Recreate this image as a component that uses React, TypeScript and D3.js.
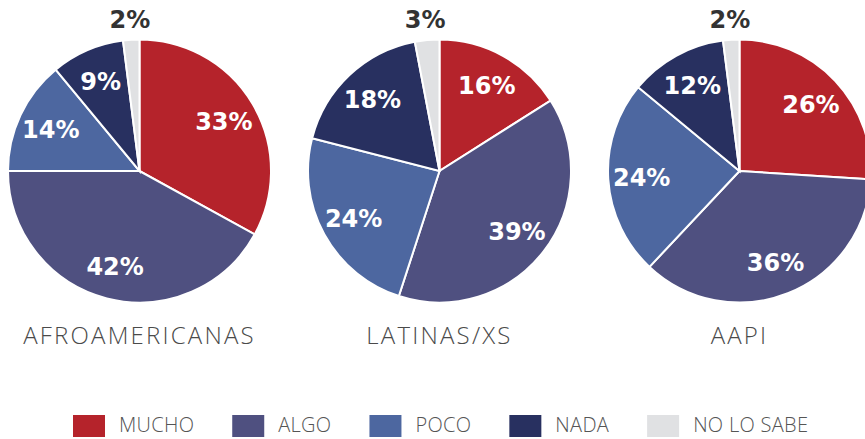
import React, { useRef, useEffect } from 'react';
import * as d3 from 'd3';

const categories = ['MUCHO', 'ALGO', 'POCO', 'NADA', 'NO LO SABE'];
const groups = ['AFROAMERICANAS', 'LATINAS/XS', 'AAPI'];
const afroamericanas = [33, 42, 14, 9, 2];
const latinas = [16, 39, 24, 18, 3];
const aapi = [26, 36, 24, 12, 2];
const colors = ['#b5232b', '#4f5080', '#4d67a0', '#283060', '#e0e1e3'];

const W = 865;
const H = 439;
const R = 131.5;

const App: React.FC = () => {
	const legendRef = useRef<SVGGElement | null>(null);

	const series = [afroamericanas, latinas, aapi];

	const x = d3.scalePoint<string>().domain(groups).range([139.5, 739.5]);
	const cy = 171;

	const pie = d3
		.pie<number>()
		.sort(null)
		.value((d) => d);
	const arc = d3.arc<d3.PieArcDatum<number>>().innerRadius(0).outerRadius(R);
	const labelArc = d3
		.arc<d3.PieArcDatum<number>>()
		.innerRadius(98)
		.outerRadius(98);
	const outerArc = d3
		.arc<d3.PieArcDatum<number>>()
		.innerRadius(152)
		.outerRadius(152);

	useEffect(() => {
		// legend flows by text width
		const g = d3.select(legendRef.current);
		g.selectAll('*').remove();
		let cx = 73;
		categories.forEach((c, i) => {
			g.append('rect')
				.attr('x', cx)
				.attr('y', 415)
				.attr('width', 32)
				.attr('height', 22)
				.attr('fill', colors[i]);
			const t = g
				.append('text')
				.attr('x', cx + 46)
				.attr('y', 432)
				.attr('fill', '#555')
				.attr('font-family', 'Open Sans, sans-serif')
				.attr('font-weight', 300)
				.attr('font-size', 20)
				.attr('letter-spacing', 0.3)
				.text(c);
			const w = (t.node() as SVGTextElement).getComputedTextLength();
			cx += 46 + w + 38;
		});
	}, []);

	return (
		<svg
			width={W}
			height={H}
			style={{ position: 'absolute', left: 0, top: 0, background: '#fff' }}
		>
			{series.map((vals, gi) => {
				const arcs = pie(vals);
				const cx = x(groups[gi]) as number;
				return (
					<g key={groups[gi]} transform={`translate(${cx},${cy})`}>
						{arcs.map((a, i) => (
							<path
								key={i}
								d={arc(a) || ''}
								fill={colors[i]}
								stroke='#fff'
								strokeWidth={2}
							/>
						))}
						{arcs.map((a, i) => {
							const small = a.data < 5;
							const [lx, ly] = small
								? outerArc.centroid(a)
								: labelArc.centroid(a);
							return (
								<text
									key={'l' + i}
									x={lx}
									y={ly}
									dy='0.36em'
									textAnchor='middle'
									fontFamily='DejaVu Sans, sans-serif'
									fontWeight='bold'
									fontSize={24}
									fill={small ? '#333' : '#fff'}
								>
									{a.data + '%'}
								</text>
							);
						})}
						<text
							y={344 - cy}
							textAnchor='middle'
							fontFamily='Open Sans, sans-serif'
							fontWeight={300}
							fontSize={24}
							letterSpacing={2.2}
							fill='#4a4a4a'
						>
							{groups[gi]}
						</text>
					</g>
				);
			})}
			<g ref={legendRef} />
		</svg>
	);
};

export default App;
